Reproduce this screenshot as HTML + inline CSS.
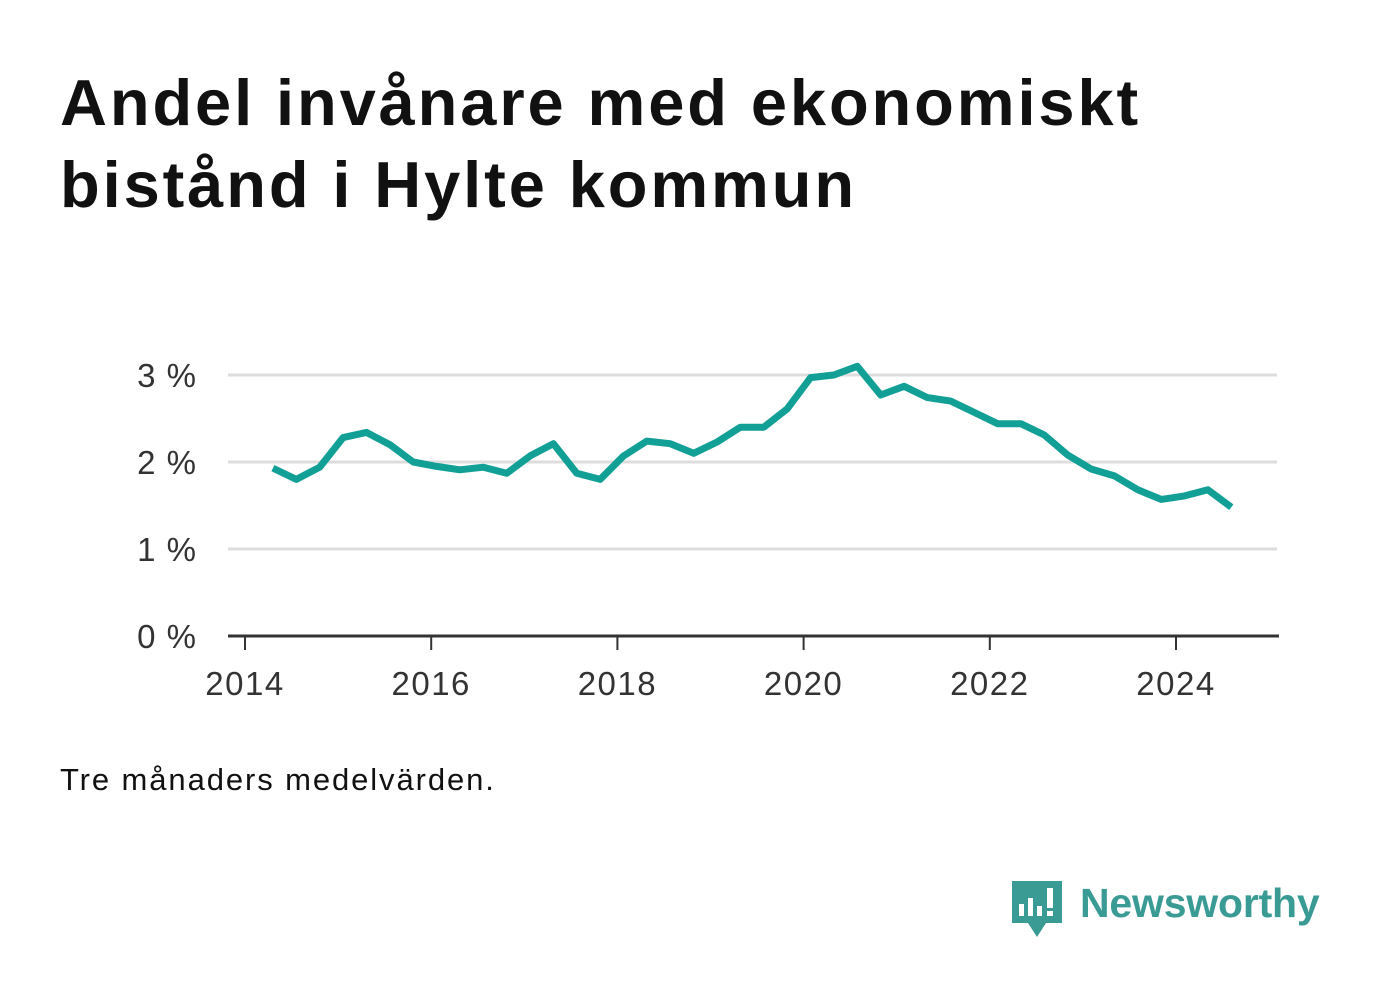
<!DOCTYPE html>
<html><head><meta charset="utf-8"><style>
body{margin:0;background:#fff;width:1382px;height:999px;overflow:hidden;font-family:"Liberation Sans",sans-serif}
h1{position:absolute;left:60px;top:62px;margin:0;font-size:65px;line-height:82px;font-weight:bold;color:#111;letter-spacing:2.9px}
.note{position:absolute;left:60px;top:762px;font-size:31px;color:#111;letter-spacing:1.9px}
.logo{position:absolute;left:1010px;top:878px}
.logo span{position:absolute;left:70px;top:2px;font-size:41px;font-weight:bold;color:#3a9a94;white-space:nowrap;letter-spacing:-0.2px}
</style></head><body>
<h1>Andel invånare med ekonomiskt<br>bistånd i Hylte kommun</h1>
<svg id="chart" width="1382" height="999" style="position:absolute;left:0;top:0"></svg>
<div class="note">Tre månaders medelvärden.</div>
<div class="logo">
<svg width="54" height="62"><path d="M2 3h50v42H36l-9 14-9-14H2z" fill="#3a9a94"/><rect x="9" y="26" width="5" height="12" fill="#fff"/><rect x="18" y="20" width="5" height="18" fill="#fff"/><rect x="27" y="28" width="5" height="10" fill="#fff"/><rect x="37" y="10" width="6" height="20" fill="#fff"/><rect x="37" y="33" width="6" height="5" fill="#fff"/></svg>
<span>Newsworthy</span></div>
<script>
const values=[1.93,1.80,1.94,2.28,2.34,2.20,2.00,1.95,1.91,1.94,1.87,2.07,2.21,1.87,1.80,2.07,2.24,2.21,2.10,2.23,2.40,2.40,2.61,2.97,3.00,3.10,2.77,2.87,2.74,2.70,2.57,2.44,2.44,2.31,2.08,1.92,1.84,1.68,1.57,1.61,1.68,1.48];
const startYear=2014.3, stepYear=0.25;
const yTicks=[0,1,2,3];
const xTicks=[2014,2016,2018,2020,2022,2024];
const svg=document.getElementById('chart'),NS='http://www.w3.org/2000/svg';
const xS=y=>245+(y-2014)*93.1, yS=v=>636-v*87;
const xL=y=>xS(2014.3)+(y-2014.3)*93.5;
function mk(t,a,txt){const e=document.createElementNS(NS,t);for(const k in a)e.setAttribute(k,a[k]);if(txt!=null)e.textContent=txt;svg.appendChild(e);return e;}
yTicks.forEach(v=>{
 if(v>0){const g=mk('line',{x1:228,x2:1277,y1:yS(v),y2:yS(v),stroke:'#ddd','stroke-width':3});
 
 }
 const t=mk('text',{x:197,y:yS(v)+12,'text-anchor':'end','font-size':33,fill:'#333','font-family':'Liberation Sans','letter-spacing':1},v+' %');
 
 
});
const ax=mk('line',{x1:228,x2:1279,y1:636,y2:636,stroke:'#333','stroke-width':3});


xTicks.forEach(y=>{
 const tk=mk('line',{x1:xS(y),x2:xS(y),y1:636,y2:650,stroke:'#333','stroke-width':2});
 
 
 const t=mk('text',{x:xS(y),y:695,'text-anchor':'middle','font-size':33,fill:'#333','font-family':'Liberation Sans','letter-spacing':1.5},y);
 
 
});
const pts=values.map((v,i)=>xL(startYear+i*stepYear).toFixed(1)+','+yS(v).toFixed(1)).join(' ');
const line=mk('polyline',{points:pts,fill:'none',stroke:'#12a096','stroke-width':7,'stroke-linejoin':'round'});


</script>
</body></html>
